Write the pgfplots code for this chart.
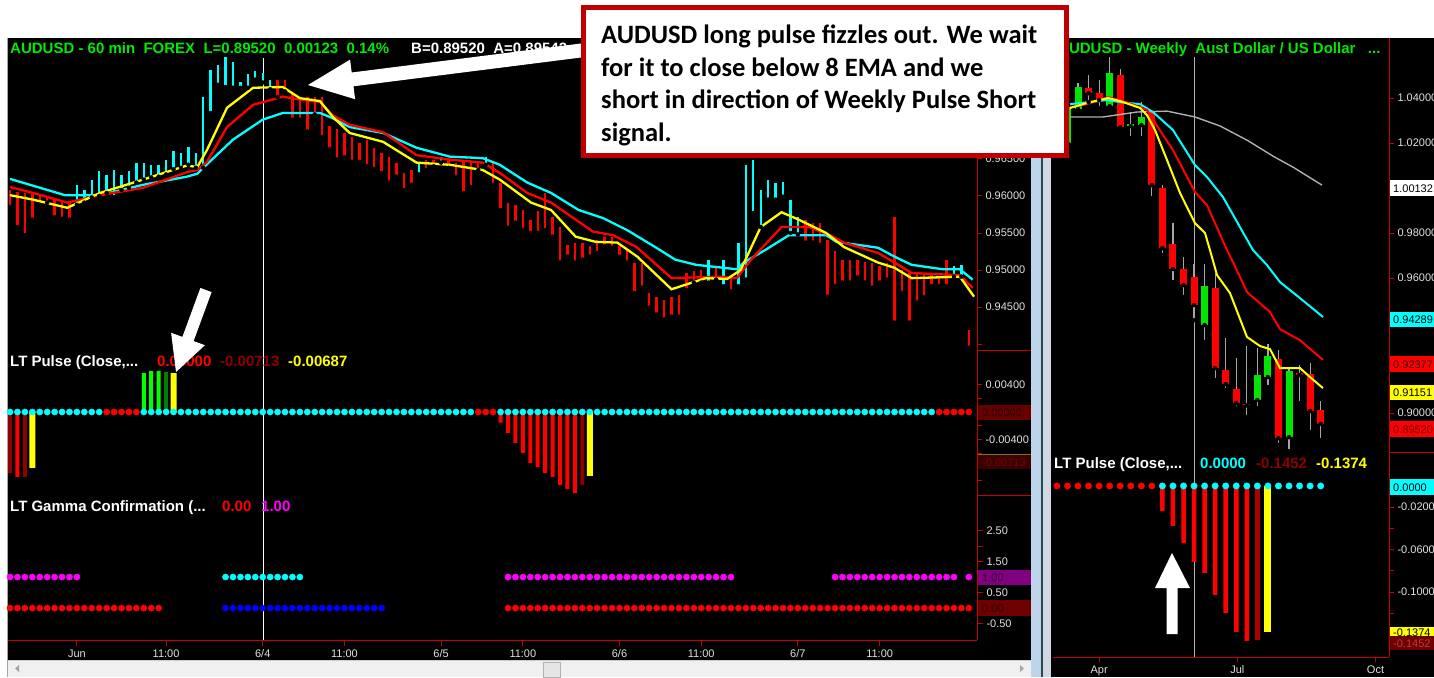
\documentclass[border=0pt]{standalone}
\usepackage{pgfplots}
\pgfplotsset{compat=1.18}
\usepackage{pgfplotstable}
\usepackage{fontspec}
\setmainfont{Liberation Sans}
\newfontfamily\calibri{Carlito}
\definecolor{lime}{RGB}{0,235,0}
\definecolor{cy}{RGB}{0,255,255}
\definecolor{rd}{RGB}{255,0,0}
\definecolor{yl}{RGB}{255,255,0}
\definecolor{dred}{RGB}{140,0,0}
\definecolor{gr}{RGB}{0,255,0}
\definecolor{dgreen}{RGB}{0,128,0}
\definecolor{cgreen}{RGB}{0,230,0}
\definecolor{mag}{RGB}{255,0,255}
\definecolor{blu}{RGB}{0,0,255}
\definecolor{axred}{RGB}{200,0,0}
\definecolor{tickgray}{RGB}{225,225,225}
\definecolor{wick}{RGB}{165,165,165}
\definecolor{emagray}{RGB}{175,175,175}
\definecolor{callred}{RGB}{192,0,0}
\definecolor{divblue}{RGB}{190,212,235}
\definecolor{divdark}{RGB}{40,70,80}
\definecolor{divgray}{RGB}{208,216,226}
\definecolor{scroll}{RGB}{240,240,240}
\definecolor{tagA}{RGB}{105,0,0}
\definecolor{tagAt}{RGB}{45,0,0}
\definecolor{olive}{RGB}{120,120,0}
\definecolor{tagB}{RGB}{60,0,0}
\definecolor{tagBt}{RGB}{120,0,0}
\definecolor{purp}{RGB}{128,0,128}
\definecolor{purpt}{RGB}{60,0,60}
\definecolor{tagC}{RGB}{110,0,0}
\definecolor{tagCt}{RGB}{50,0,0}
\definecolor{tagrt}{RGB}{60,0,0}
\definecolor{tagrt2}{RGB}{100,0,0}
\definecolor{tagdt}{RGB}{190,60,60}
\definecolor{bar17}{RGB}{170,0,0}
\newcommand{\tf}{\fontsize{15}{17}\selectfont\bfseries}
\newcommand{\tk}{\fontsize{11}{13}\selectfont}

\pgfplotstableread{
k lo hi
9 0.9588 0.9615
10 0.9591 0.9608
11 0.9598 0.9622
12 0.9600 0.9633
13 0.9604 0.9628
14 0.9598 0.9635
15 0.9608 0.9628
16 0.9611 0.9633
17 0.9618 0.9645
18 0.9622 0.9645
19 0.9625 0.9642
20 0.9626 0.9642
21 0.9629 0.9649
22 0.9636 0.9660
23 0.9638 0.9658
24 0.9642 0.9666
25 0.9638 0.9658
26 0.9638 0.9733
27 0.9712 0.9770
28 0.9750 0.9777
29 0.9747 0.9788
30 0.9746 0.9781
31 0.9746 0.9754
32 0.9746 0.9764
33 0.9757 0.9768
34 0.9753 0.9766
35 0.9744 0.9757
55 0.9629 0.9645
58 0.9645 0.9653
64 0.9642 0.9653
94 0.9483 0.9514
96 0.9478 0.9514
98 0.9478 0.9537
99 0.9487 0.9642
100 0.9577 0.9649
101 0.9558 0.9608
102 0.9595 0.9622
103 0.9595 0.9618
104 0.9599 0.9619
105 0.9550 0.9595
106 0.9548 0.9572
127 0.9491 0.9505
128 0.9491 0.9507
}\upbars

\pgfplotstableread{
k lo hi
0 0.9585 0.9608
1 0.9558 0.9605
2 0.9547 0.9604
3 0.9568 0.9604
4 0.9588 0.9601
5 0.9591 0.9599
6 0.9571 0.9595
7 0.9569 0.9592
8 0.9568 0.9591
36 0.9733 0.9757
37 0.9741 0.9757
38 0.9703 0.9737
39 0.9703 0.9730
40 0.9687 0.9733
41 0.9710 0.9734
42 0.9679 0.9734
43 0.9663 0.9694
44 0.9649 0.9690
45 0.9652 0.9685
46 0.9646 0.9679
47 0.9646 0.9672
48 0.9640 0.9676
49 0.9636 0.9665
50 0.9631 0.9658
51 0.9618 0.9653
52 0.9626 0.9645
53 0.9608 0.9631
54 0.9615 0.9635
56 0.9635 0.9649
57 0.9640 0.9649
59 0.9638 0.9649
60 0.9625 0.9645
61 0.9604 0.9649
62 0.9612 0.9646
63 0.9635 0.9646
65 0.9615 0.9645
66 0.9581 0.9618
67 0.9557 0.9591
68 0.9564 0.9588
69 0.9554 0.9581
70 0.9550 0.9568
71 0.9550 0.9579
72 0.9554 0.9604
73 0.9545 0.9572
74 0.9510 0.9558
75 0.9518 0.9534
76 0.9510 0.9537
77 0.9514 0.9537
78 0.9518 0.9532
79 0.9523 0.9541
80 0.9532 0.9545
81 0.9530 0.9545
82 0.9518 0.9532
83 0.9510 0.9527
84 0.9469 0.9510
85 0.9476 0.9510
86 0.9449 0.9469
87 0.9440 0.9464
88 0.9433 0.9460
89 0.9437 0.9464
90 0.9437 0.9466
91 0.9473 0.9496
92 0.9483 0.9498
93 0.9483 0.9500
95 0.9487 0.9505
97 0.9471 0.9491
107 0.9537 0.9568
108 0.9537 0.9564
109 0.9534 0.9564
110 0.9464 0.9541
111 0.9478 0.9525
112 0.9483 0.9514
113 0.9483 0.9514
114 0.9490 0.9514
115 0.9483 0.9511
116 0.9476 0.9510
117 0.9483 0.9505
118 0.9487 0.9510
119 0.9429 0.9572
120 0.9469 0.9500
121 0.9429 0.9496
122 0.9456 0.9496
123 0.9463 0.9496
124 0.9478 0.9496
125 0.9478 0.9491
126 0.9478 0.9514
129 0.9395 0.9419
}\downbars

\pgfplotstableread{
w o h l c
-1 1.0200 1.0391 1.0169 1.0360
0 1.0351 1.0467 1.0333 1.0449
3 1.0364 1.0582 1.0356 1.0511
5 1.0275 1.0338 1.0222 1.0285
6 1.0280 1.0382 1.0222 1.0316
12 0.9391 0.9662 0.9316 0.9564
17 0.9058 0.9289 0.9022 0.9169
18 0.9160 0.9307 0.9116 0.9253
20 0.8893 0.9204 0.8831 0.9187
}\greencandles

\pgfplotstableread{
w o h l c
1 1.0444 1.0502 1.0382 1.0422
2 1.0422 1.0480 1.0356 1.0391
4 1.0502 1.0529 1.0267 1.0271
7 1.0338 1.0347 0.9956 1.0013
8 1.0000 1.0013 0.9702 0.9733
9 0.9751 0.9844 0.9582 0.9640
10 0.9640 0.9693 0.9516 0.9569
11 0.9604 0.9662 0.9413 0.9480
13 0.9556 0.9622 0.9147 0.9200
14 0.9191 0.9333 0.9102 0.9129
15 0.9107 0.9244 0.9022 0.9044
16 0.9042 0.9298 0.8982 0.9034
19 0.9240 0.9280 0.8858 0.8889
21 0.9178 0.9213 0.9044 0.9169
22 0.9173 0.9222 0.8916 0.9009
23 0.9013 0.9053 0.8880 0.8952
}\redcandles

\pgfplotsset{
  chart/.style={scale only axis, anchor=north west, clip=true,
    scaled ticks=false,
    axis line style={-, draw=axred, line width=0.9pt},
    tick style={draw=axred, line width=0.9pt},
    major tick length=5pt, tick align=outside,
    ticklabel style={font=\tk, text=tickgray},
    /pgf/number format/assume math mode=true},
  lpanel/.style={chart, width=969pt, xmin=-0.27, xmax=130.1},
  rpanel/.style={chart, width=336pt, xmin=-2.37, xmax=29.48},
  hl/.style={only marks, mark=none, forget plot, error bars/.cd, y dir=plus, y explicit, error mark=none},
}

\begin{document}
\begin{tikzpicture}[x=1pt,y=-1pt]
\useasboundingbox (0,0) rectangle (1434,677);
\clip (0,0) rectangle (1434,677);
% backgrounds
\fill[white] (0,0) rectangle (1434,677);
\fill[black] (8,38) rectangle (1031,660);
\fill[black] (1051,38) rectangle (1434,677);
\fill[divblue] (1031,38) rectangle (1041,677);
\fill[divdark] (1041,38) rectangle (1043,677);
\fill[divgray] (1043,38) rectangle (1051,677);
\draw[gray!70, line width=1pt] (7.5,38) -- (7.5,677);
% scrollbar
\fill[scroll] (8,660) rectangle (1031,677);
\draw[gray!40] (8,660.5) -- (1031,660.5);
\fill[gray!20] (543,662) rectangle (560,677);
\draw[gray!60] (543,662) rectangle (560,677);
\fill[gray!70] (19,665) -- (19,672) -- (15,668.5) -- cycle;
\fill[gray!70] (1020,665) -- (1020,672) -- (1024,668.5) -- cycle;
% cursor lines
\draw[white, line width=1pt] (263,58) -- (263,640);
\draw[emagray, line width=1pt] (1194,57) -- (1194,657);

\begin{scope}[x=1cm,y=1cm]
% ---------------- left price panel
\begin{axis}[lpanel, at={(8pt,-38pt)}, height=312pt,
  ymin=0.9392, ymax=0.98132,
  axis x line=none, axis y line*=right,
  ytick={0.94,0.945,0.95,0.955,0.96,0.965},
  yticklabels={,0.94500,0.95000,0.95500,0.96000,0.96500}]
\addplot[hl, error bar style={line width=2.4pt, cy}] table[x=k, y=lo, y error expr=\thisrow{hi}-\thisrow{lo}] {\upbars};
\addplot[hl, error bar style={line width=2.4pt, rd}] table[x=k, y=lo, y error expr=\thisrow{hi}-\thisrow{lo}] {\downbars};
\addplot[cy, line width=2.3pt] coordinates {(0,0.9623) (2.7,0.9615) (7.4,0.9601) (12.1,0.9601) (17.9,0.9615) (23.8,0.9626) (25.2,0.9630) (26,0.9638) (30,0.9676) (34,0.9703) (36.7,0.9712) (41.7,0.9712) (43.4,0.9705) (45.7,0.9693) (50.2,0.9685) (54.7,0.9665) (59.2,0.9653) (63.6,0.9651) (65.9,0.9642) (69.6,0.9618) (72.8,0.9604) (76.5,0.9581) (79.8,0.9570) (83,0.9554) (86.8,0.9531) (89.5,0.9514) (92.3,0.9507) (97.8,0.9501) (98.7,0.9510) (101.6,0.9527) (104.8,0.9547) (109.8,0.9547) (111.2,0.9538) (116.8,0.9530) (119,0.9518) (121.3,0.9507) (125.5,0.9501) (127.8,0.9501) (129.5,0.9487)};
\addplot[rd, line width=2.3pt] coordinates {(0,0.9612) (3.1,0.9604) (7.7,0.9591) (12.1,0.9601) (17.9,0.9611) (23.8,0.9632) (25.2,0.9635) (26.5,0.9646) (29.2,0.9693) (32.7,0.9723) (36.7,0.9734) (39,0.9730) (41.7,0.9727) (43.4,0.9709) (45.7,0.9696) (50.2,0.9686) (54.7,0.9655) (59.2,0.9649) (63.6,0.9645) (65.9,0.9631) (69.6,0.9604) (72.8,0.9591) (78.4,0.9552) (81.1,0.9547) (84.3,0.9531) (89,0.9489) (95.5,0.9491) (97.8,0.9489) (99.7,0.9514) (103.8,0.9558) (107.5,0.9558) (110.3,0.9547) (112.2,0.9537) (116.8,0.9523) (119,0.9510) (121.3,0.9496) (127.8,0.9493) (129.5,0.9476)};
\addplot[yl, line width=2.3pt] coordinates {(0,0.9601) (3.1,0.9595) (7.7,0.9584) (12.1,0.9604) (17.9,0.9622) (21.9,0.9635) (23.8,0.9641) (25.2,0.9639) (26.5,0.9662) (29.2,0.9719) (32.7,0.9746) (36.7,0.9747) (39,0.9732) (41.7,0.9728) (43.4,0.9707) (45.7,0.9685) (50.2,0.9673) (54.7,0.9645) (59.2,0.9642) (63.6,0.9635) (65.9,0.9622) (70.1,0.9591) (72.8,0.9581) (76.1,0.9545) (78.8,0.9538) (81.7,0.9537) (84.4,0.9518) (89,0.9474) (93.6,0.9489) (96.5,0.9488) (98.3,0.9500) (101,0.9558) (103.8,0.9578) (106.1,0.9568) (109.8,0.9550) (112.2,0.9531) (116.8,0.9510) (119,0.9503) (121.3,0.9489) (127.8,0.9491) (129.7,0.9464)};
\end{axis}

% ---------------- left pulse panel
\begin{axis}[lpanel, at={(8pt,-350pt)}, height=145pt,
  ymin=-0.01208, ymax=0.00902,
  axis x line=none, axis y line*=right,
  ytick={-0.01,-0.008,-0.006,-0.004,-0.002,0,0.002,0.004},
  yticklabels={,,,-0.00400,,,,0.00400}]
\addplot[ybar, bar width=4pt, fill=rd, draw=none] coordinates {(1,-0.00946) (66,-0.00156) (67,-0.00306) (68,-0.00451) (69,-0.00597) (70,-0.00742) (71,-0.00800) (72,-0.00888) (73,-0.00946) (74,-0.01062) (75,-0.01120) (76,-0.01179)};
\addplot[ybar, bar width=4pt, fill=dred, draw=none] coordinates {(0,-0.00888) (2,-0.00946) (77,-0.01062)};
\addplot[ybar, bar width=4pt, fill=gr, draw=none] coordinates {(18,0.00567) (19,0.00597) (20,0.00597)};
\addplot[ybar, bar width=4pt, fill=dgreen, draw=none] coordinates {(21,0.00582)};
\addplot[only marks, mark=*, mark size=3.1pt, color=cy] coordinates {(0,0)(1,0)(2,0)(3,0)(4,0)(5,0)(6,0)(7,0)(8,0)(9,0)(10,0)(11,0)(12,0)
(18,0)(19,0)(20,0)(21,0)(22,0)(23,0)(24,0)(25,0)(26,0)(27,0)(28,0)(29,0)(30,0)(31,0)(32,0)(33,0)(34,0)(35,0)(36,0)(37,0)(38,0)(39,0)(40,0)(41,0)(42,0)(43,0)(44,0)(45,0)(46,0)(47,0)(48,0)(49,0)(50,0)(51,0)(52,0)(53,0)(54,0)(55,0)(56,0)(57,0)(58,0)(59,0)(60,0)(61,0)(62,0)
(66,0)(67,0)(68,0)(69,0)(70,0)(71,0)(72,0)(73,0)(74,0)(75,0)(76,0)(77,0)(78,0)(79,0)(80,0)(81,0)(82,0)(83,0)(84,0)(85,0)(86,0)(87,0)(88,0)(89,0)(90,0)(91,0)(92,0)(93,0)(94,0)(95,0)(96,0)(97,0)(98,0)(99,0)(100,0)(101,0)(102,0)(103,0)(104,0)(105,0)(106,0)(107,0)(108,0)(109,0)(110,0)(111,0)(112,0)(113,0)(114,0)(115,0)(116,0)(117,0)(118,0)(119,0)(120,0)(121,0)(122,0)(123,0)(124,0)};
\addplot[only marks, mark=*, mark size=3.1pt, color=rd] coordinates {(13,0)(14,0)(15,0)(16,0)(17,0)(63,0)(64,0)(65,0)(125,0)(126,0)(127,0)(128,0)(129,0)};
\addplot[ybar, bar width=6pt, fill=yl, draw=none] coordinates {(3,-0.00815) (22,0.00567) (78,-0.00931)};
\end{axis}

% ---------------- left gamma panel
\begin{axis}[lpanel, at={(8pt,-495pt)}, height=145pt,
  ymin=-1.03, ymax=3.645,
  axis x line*=bottom, axis y line*=right, major tick length=6pt,
  ytick={-0.5,0,0.5,1,1.5,2,2.5},
  yticklabels={-0.50,,0.50,,1.50,,2.50},
  xtick={9,21,34,45,58,69,82,93,106,117},
  xticklabels={Jun,11:00,6/4,11:00,6/5,11:00,6/6,11:00,6/7,11:00}]
\addplot[only marks, mark=*, mark size=3.1pt, color=mag] coordinates {(0,1)(1,1)(2,1)(3,1)(4,1)(5,1)(6,1)(7,1)(8,1)(9,1)
(67,1)(68,1)(69,1)(70,1)(71,1)(72,1)(73,1)(74,1)(75,1)(76,1)(77,1)(78,1)(79,1)(80,1)(81,1)(82,1)(83,1)(84,1)(85,1)(86,1)(87,1)(88,1)(89,1)(90,1)(91,1)(92,1)(93,1)(94,1)(95,1)(96,1)(97,1)
(111,1)(112,1)(113,1)(114,1)(115,1)(116,1)(117,1)(118,1)(119,1)(120,1)(121,1)(122,1)(123,1)(124,1)(125,1)(126,1)(127,1)(129,1)};
\addplot[only marks, mark=*, mark size=3.1pt, color=cy] coordinates {(29,1)(30,1)(31,1)(32,1)(33,1)(34,1)(35,1)(36,1)(37,1)(38,1)(39,1)};
\addplot[only marks, mark=*, mark size=3.1pt, color=rd] coordinates {(0,0)(1,0)(2,0)(3,0)(4,0)(5,0)(6,0)(7,0)(8,0)(9,0)(10,0)(11,0)(12,0)(13,0)(14,0)(15,0)(16,0)(17,0)(18,0)(19,0)(20,0)
(67,0)(68,0)(69,0)(70,0)(71,0)(72,0)(73,0)(74,0)(75,0)(76,0)(77,0)(78,0)(79,0)(80,0)(81,0)(82,0)(83,0)(84,0)(85,0)(86,0)(87,0)(88,0)(89,0)(90,0)(91,0)(92,0)(93,0)(94,0)(95,0)(96,0)(97,0)(98,0)(99,0)(100,0)(101,0)(102,0)(103,0)(104,0)(105,0)(106,0)(107,0)(108,0)(109,0)(110,0)(111,0)(112,0)(113,0)(114,0)(115,0)(116,0)(117,0)(118,0)(119,0)(120,0)(121,0)(122,0)(123,0)(124,0)(125,0)(126,0)(127,0)(128,0)(129,0)};
\addplot[only marks, mark=*, mark size=3.1pt, color=blu] coordinates {(29,0)(30,0)(31,0)(32,0)(33,0)(34,0)(35,0)(36,0)(37,0)(38,0)(39,0)(40,0)(41,0)(42,0)(43,0)(44,0)(45,0)(46,0)(47,0)(48,0)(49,0)(50,0)};
\end{axis}

% ---------------- right price panel
\begin{axis}[rpanel, at={(1053pt,-38pt)}, height=414pt,
  ymin=0.8827, ymax=1.0667,
  axis x line=none, axis y line*=right,
  ytick={0.90,0.92,0.94,0.96,0.98,1.00,1.02,1.04},
  yticklabels={0.90000,,,0.96000,0.98000,,1.02000,1.04000}]
\addplot[hl, error bar style={line width=1.2pt, wick}] table[x=w, y=l, y error expr=\thisrow{h}-\thisrow{l}] {\greencandles};
\addplot[hl, error bar style={line width=1.2pt, wick}] table[x=w, y=l, y error expr=\thisrow{h}-\thisrow{l}] {\redcandles};
\addplot[hl, error bar style={line width=7pt, cgreen}] table[x=w, y=o, y error expr=\thisrow{c}-\thisrow{o}] {\greencandles};
\addplot[hl, error bar style={line width=7pt, rd}] table[x=w, y=c, y error expr=\thisrow{o}-\thisrow{c}] {\redcandles};
\addplot[emagray, line width=1.4pt] coordinates {(-0.76,1.0316) (2.37,1.0316) (5.59,1.0338) (8.44,1.0342) (11.09,1.0316) (13.46,1.0276) (16.02,1.0213) (18.48,1.0142) (20.38,1.0093) (23.13,1.0013)};
\addplot[cy, line width=2pt] coordinates {(-0.76,1.0373) (2.75,1.0391) (3.98,1.0382) (5.88,1.0373) (7.11,1.0338) (9.00,1.0258) (11.09,1.0102) (12.23,1.0049) (13.74,0.9960) (16.59,0.9724) (17.91,0.9658) (19.15,0.9582) (21.04,0.9511) (23.22,0.9427)};
\addplot[rd, line width=2pt] coordinates {(-0.76,1.0360) (0.85,1.0373) (2.84,1.0404) (3.98,1.0391) (5.88,1.0360) (6.54,1.0347) (7.49,1.0276) (9.00,1.0169) (11.09,0.9982) (12.23,0.9924) (14.12,0.9724) (14.69,0.9671) (16.02,0.9538) (18.20,0.9449) (19.15,0.9373) (21.04,0.9324) (23.22,0.9236)};
\addplot[yl, line width=2pt] coordinates {(-0.76,1.0356) (0.85,1.0378) (2.84,1.0400) (3.98,1.0387) (5.88,1.0356) (6.54,1.0324) (7.30,1.0258) (8.44,1.0124) (9.67,0.9978) (11.09,0.9844) (12.04,0.9800) (12.51,0.9724) (13.18,0.9613) (14.41,0.9533) (16.02,0.9338) (17.25,0.9298) (18.20,0.9284) (19.15,0.9200) (21.04,0.9200) (21.99,0.9160) (23.22,0.9111)};
\end{axis}

% ---------------- right pulse panel
\begin{axis}[rpanel, at={(1053pt,-452pt)}, height=205pt,
  ymin=-0.1613, ymax=0.032,
  axis x line*=bottom, axis y line*=right,
  ytick={-0.14,-0.12,-0.10,-0.08,-0.06,-0.04,-0.02,0},
  yticklabels={,,-0.1000,,-0.0600,,-0.0200,},
  xtick={2,15.1,28.2}, xticklabels={Apr,Jul,Oct}]
\addplot[ybar, bar width=4.5pt, fill=rd, draw=none] coordinates {(8,-0.0236) (9,-0.0377) (10,-0.0538) (11,-0.0717) (12,-0.0821) (13,-0.1028) (14,-0.1198) (15,-0.1377) (16,-0.1462)};
\addplot[ybar, bar width=4.5pt, fill=bar17, draw=none] coordinates {(17,-0.1453)};
\addplot[only marks, mark=*, mark size=3.2pt, color=rd] coordinates {(-2,0)(-1,0)(0,0)(1,0)(2,0)(3,0)(4,0)(5,0)(6,0)(7,0)};
\addplot[only marks, mark=*, mark size=3.2pt, color=cy] coordinates {(8,0)(9,0)(10,0)(11,0)(12,0)(13,0)(14,0)(15,0)(16,0)(17,0)(18,0)(19,0)(20,0)(21,0)(22,0)(23,0)};
\addplot[ybar, bar width=7pt, fill=yl, draw=none] coordinates {(18,-0.1377)};
\end{axis}
\end{scope}

% separators on the value scales
\draw[axred, line width=0.9pt] (977,350.5) -- (1031,350.5);
\draw[axred, line width=0.9pt] (977,495.5) -- (1031,495.5);
\draw[axred, line width=0.9pt] (1389,452.5) -- (1434,452.5);

% value tags, left chart
\fill[tagA] (978,405) rectangle (1031,420);
\node[anchor=west, font=\tk, text=tagAt, inner sep=0] at (982,413) {0.00000};
\draw[olive, line width=1pt] (978,454) -- (1031,454);
\fill[tagB] (978,455) rectangle (1031,469);
\node[anchor=west, font=\tk, text=tagBt, inner sep=0] at (982,462.5) {-0.00713};
\fill[purp] (978,570) rectangle (1031,585);
\node[anchor=west, font=\tk, text=purpt, inner sep=0] at (982,578) {1.00};
\fill[tagC] (978,600) rectangle (1031,616);
\node[anchor=west, font=\tk, text=tagCt, inner sep=0] at (982,608.5) {0.00};

% value tags, right chart
\fill[white] (1390,180) rectangle (1434,196);
\node[anchor=west, font=\tk, text=black, inner sep=0] at (1393,188.5) {1.00132};
\fill[cy] (1390,312) rectangle (1434,327);
\node[anchor=west, font=\tk, text=black, inner sep=0] at (1393,320) {0.94289};
\fill[rd] (1390,356) rectangle (1434,372);
\node[anchor=west, font=\tk, text=tagrt, inner sep=0] at (1393,364.5) {0.92377};
\fill[yl] (1390,385) rectangle (1434,400);
\node[anchor=west, font=\tk, text=black, inner sep=0] at (1393,393) {0.91151};
\fill[rd] (1390,421) rectangle (1434,437);
\node[anchor=west, font=\tk, text=tagrt2, inner sep=0] at (1393,429.5) {0.89520};
\fill[cy] (1390,479) rectangle (1434,495);
\node[anchor=west, font=\tk, text=black, inner sep=0] at (1393,487.5) {0.0000};
\fill[yl] (1390,627) rectangle (1434,636);
\node[anchor=west, font=\tk, text=black, inner sep=0] at (1393,633) {-0.1374};
\fill[tagC] (1390,636) rectangle (1434,650);
\node[anchor=west, font=\tk, text=tagdt, inner sep=0] at (1393,643.5) {-0.1452};

% panel titles
\node[anchor=base west, font=\tf, text=lime, inner sep=0] at (10,54) {AUDUSD - 60 min\ \ FOREX\ \ L=0.89520\ \ 0.00123\ \ 0.14\%};
\node[anchor=base west, font=\tf, text=white, inner sep=0] at (411,54) {B=0.89520\ \ A=0.89542};
\node[anchor=base west, font=\tf, text=white, inner sep=0] at (10,366) {LT Pulse (Close,...};
\node[anchor=base west, font=\tf, text=rd, inner sep=0] at (157,366) {0.00000};
\node[anchor=base west, font=\tf, text=dred, inner sep=0] at (220,366) {-0.00713};
\node[anchor=base west, font=\tf, text=yl, inner sep=0] at (288,366) {-0.00687};
\node[anchor=base west, font=\tf, text=white, inner sep=0] at (10,511) {LT Gamma Confirmation (...};
\node[anchor=base west, font=\tf, text=rd, inner sep=0] at (222,511) {0.00};
\node[anchor=base west, font=\tf, text=mag, inner sep=0] at (261,511) {1.00};
\node[anchor=base west, font=\tf, text=lime, inner sep=0] at (1058,53) {AUDUSD - Weekly\ \ Aust Dollar / US Dollar\ \ \ ...};
\node[anchor=base west, font=\tf, text=white, inner sep=0] at (1054,468) {LT Pulse (Close,...};
\node[anchor=base west, font=\tf, text=cy, inner sep=0] at (1200,468) {0.0000};
\node[anchor=base west, font=\tf, text=dred, inner sep=0] at (1256,468) {-0.1452};
\node[anchor=base west, font=\tf, text=yl, inner sep=0] at (1316,468) {-0.1374};

% arrows
\fill[white] (308,85) -- (350.1,59.6) -- (351.7,72.5) -- (584.1,43.1) -- (585.9,56.9) -- (353.5,86.3) -- (355.1,99.2) -- cycle;
\fill[white] (176,372) -- (171.1,332.8) -- (182.4,336.9) -- (200.4,287.9) -- (211.6,292.1) -- (193.6,341.1) -- (204.9,345.2) -- cycle;
\fill[white] (1172,553) -- (1155,588) -- (1166.5,588) -- (1166.5,634) -- (1177.5,634) -- (1177.5,588) -- (1190,588) -- cycle;

% callout
\draw[callred, line width=5pt, fill=white] (583.5,8) rectangle (1066.5,155.5);
\begin{scope}[every node/.style={anchor=base west, inner sep=0, font=\calibri\bfseries\fontsize{26.5}{30}\selectfont}]
\node at (601,44) {AUDUSD long pulse fizzles out. We wait};
\node at (601,76) {for it to close below 8 EMA and we};
\node at (601,108.5) {short in direction of Weekly Pulse Short};
\node at (601,141) {signal.};
\end{scope}
\end{tikzpicture}
\end{document}
